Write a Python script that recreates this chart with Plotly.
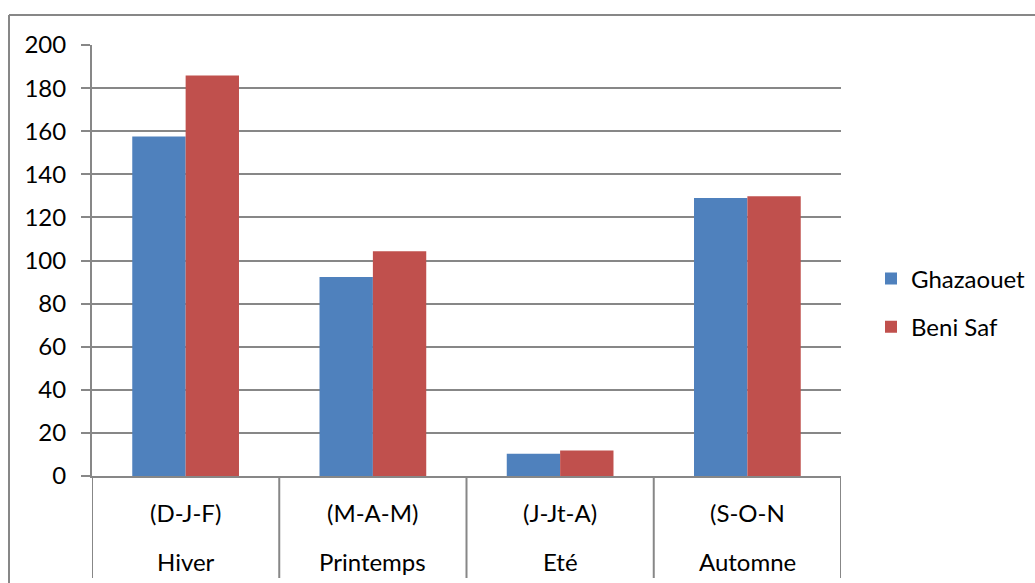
import plotly.graph_objects as go

# Seasonal rainfall totals per station
seasons = ["Hiver", "Printemps", "Eté", "Automne"]
months = ["(D-J-F)", "(M-A-M)", "(J-Jt-A)", "(S-O-N"]
ghazaouet = [157.5, 92.4, 10.3, 129.0]
beni_saf = [185.9, 104.3, 11.8, 129.8]
y_ticks = [0, 20, 40, 60, 80, 100, 120, 140, 160, 180, 200]

BLUE = "#4F81BD"
RED = "#C0504D"
GRID = "#878787"
FONT = "Lato"
FS = 24

W, H = 1035, 583
L, R, T, B = 92, 194, 45, 107
plot_w = W - L - R
plot_h = H - T - B


def px_to_xpaper(px):
    return (px - L) / plot_w


def px_to_ypaper(py):
    return (H - B - py) / plot_h


idx = list(range(len(seasons)))

fig = go.Figure()
fig.add_trace(go.Bar(x=idx, y=ghazaouet, name="Ghazaouet", marker_color=BLUE,
                     marker_line_width=0, legendgroup="g"))
fig.add_trace(go.Bar(x=idx, y=beni_saf, name="Beni Saf", marker_color=RED,
                     marker_line_width=0, legendgroup="b"))

# Two-level category labels under the axis
annotations = []
for i, (s, m) in enumerate(zip(seasons, months)):
    annotations.append(dict(x=i, y=px_to_ypaper(512), xref="x", yref="paper",
                            text=m, showarrow=False, yanchor="middle",
                            font=dict(family=FONT, size=FS, color="#000")))
    annotations.append(dict(x=i, y=px_to_ypaper(561), xref="x", yref="paper",
                            text=s, showarrow=False, yanchor="middle",
                            font=dict(family=FONT, size=FS, color="#000")))

shapes = []
# Category dividers
for k in range(len(seasons) + 1):
    shapes.append(dict(type="line", xref="x", yref="paper",
                       x0=k - 0.5, x1=k - 0.5, y0=0, y1=px_to_ypaper(578),
                       line=dict(color=GRID, width=2)))
# Chart-area frame (left and top edges)
shapes.append(dict(type="line", xref="paper", yref="paper",
                   x0=px_to_xpaper(9), x1=px_to_xpaper(9),
                   y0=px_to_ypaper(15), y1=px_to_ypaper(600),
                   line=dict(color=GRID, width=2)))
shapes.append(dict(type="line", xref="paper", yref="paper",
                   x0=px_to_xpaper(9), x1=px_to_xpaper(1050),
                   y0=px_to_ypaper(15), y1=px_to_ypaper(15),
                   line=dict(color=GRID, width=2)))

fig.update_layout(
    width=W, height=H,
    margin=dict(l=L, r=R, t=T, b=B, pad=0, autoexpand=False),
    paper_bgcolor="white", plot_bgcolor="white",
    barmode="group", bargap=0.43, bargroupgap=0,
    font=dict(family=FONT, size=FS, color="#000"),
    showlegend=True,
    legend=dict(x=px_to_xpaper(871), y=px_to_ypaper(303), xanchor="left",
                yanchor="middle", traceorder="grouped", tracegroupgap=14,
                itemwidth=30,
                font=dict(family=FONT, size=FS, color="#000"),
                bgcolor="rgba(0,0,0,0)"),
    annotations=annotations,
    shapes=shapes,
)

fig.update_xaxes(range=[-0.5, len(seasons) - 0.5], showticklabels=False,
                 showgrid=False, zeroline=False, showline=True,
                 linecolor=GRID, linewidth=2, ticks="", fixedrange=True)
fig.update_yaxes(range=[0, 200], tickvals=y_ticks, showgrid=True,
                 gridcolor=GRID, gridwidth=1.5, zeroline=False,
                 showline=True, linecolor=GRID, linewidth=2,
                 ticks="outside", ticklen=9, tickcolor=GRID, tickwidth=1.5,
                 ticklabelstandoff=10,
                 tickfont=dict(family=FONT, size=FS, color="#000"),
                 fixedrange=True)

fig.write_html("out.html")
